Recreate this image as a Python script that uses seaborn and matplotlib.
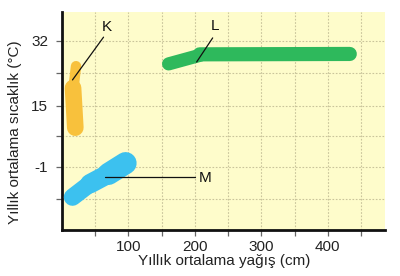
import matplotlib
matplotlib.use("Agg")
import matplotlib.pyplot as plt
import seaborn as sns
import pandas as pd

# ---- data ----
# blob centre-line segments: name, segment id, x (cm), y (°C)
blob_names = ["K", "K", "L", "L", "M", "M", "M"]
seg_ids = ["K1", "K2", "L1", "L2", "M1", "M2", "M3"]
seg_x0 = [21.1, 16.6, 160.4, 207.1, 15.8, 42.0, 70.0]
seg_x1 = [17.3, 20.0, 208.6, 433.0, 42.0, 70.0, 95.6]
seg_y0 = [25.4, 19.7, 26.0, 28.5, -8.9, -5.4, -2.8]
seg_y1 = [19.7, 9.3, 28.3, 28.6, -5.4, -2.8, 0.0]

label_names = ["K", "L", "M"]
label_x = [67.0, 229.7, 214.6]
label_y = [35.7, 35.9, -3.9]
leader_x0 = [62.5, 226.7, 64.0]
leader_y0 = [33.0, 32.8, -3.6]
leader_x1 = [15.8, 202.6, 199.5]
leader_y1 = [21.8, 26.5, -3.6]

x_major = [100, 200, 300, 400]
x_minor = [50, 150, 250, 350, 450]
y_major = [32, 15, -1]
y_major_labels = ["32", "15", "-1"]
y_minor = [23.5, 7, -9.5]

x_title = "Yıllık ortalama yağış (cm)"
y_title = "Yıllık ortalama sıcaklık (°C)"

# ---- styles ----
colors = {"K": "#F8C13C", "L": "#2EB95C", "M": "#3CC1EF"}
seg_width = {"K1": 7.5, "K2": 12.0, "L1": 9.5, "L2": 10.2,
             "M1": 12.5, "M2": 14.0, "M3": 16.0}

sns.set_style("white")
plt.rcParams["font.family"] = ["Liberation Sans", "DejaVu Sans"]

fig = plt.figure(figsize=(4.0, 2.76), dpi=100)
ax = fig.add_axes([0.155, 0.1667, 0.8075, 0.79])
ax.set_facecolor("#FEFCCB")

rows = []
for n, s, x0, x1, y0, y1 in zip(blob_names, seg_ids, seg_x0, seg_x1, seg_y0, seg_y1):
    rows.append({"blob": n, "seg": s, "x": x0, "y": y0})
    rows.append({"blob": n, "seg": s, "x": x1, "y": y1})
df = pd.DataFrame(rows)

for s, sub in df.groupby("seg", sort=False):
    sns.lineplot(data=sub, x="x", y="y", ax=ax, sort=False, estimator=None,
                 color=colors[sub["blob"].iloc[0]], linewidth=seg_width[s],
                 solid_capstyle="round", zorder=3)

for n, lx, ly, a0, b0, a1, b1 in zip(label_names, label_x, label_y,
                                    leader_x0, leader_y0, leader_x1, leader_y1):
    ax.plot([a0, a1], [b0, b1], color="#111111", linewidth=0.9, zorder=4)
    ax.text(lx, ly, n, ha="center", va="center", fontsize=11, color="#111111", zorder=5)

ax.set_xlim(0, 486)
ax.set_ylim(-17.5, 39.6)
ax.set_xticks(x_major)
ax.set_xticklabels([str(v) for v in x_major])
ax.set_xticks(x_minor, minor=True)
ax.set_yticks(y_major)
ax.set_yticklabels(y_major_labels)
ax.set_yticks(y_minor, minor=True)

ax.grid(True, which="both", linestyle=(0, (1.5, 1.5)), color="#C9C49B", linewidth=0.8)
ax.set_axisbelow(True)

for side in ["top", "right"]:
    ax.spines[side].set_visible(False)
for side in ["left", "bottom"]:
    ax.spines[side].set_color("#111111")
    ax.spines[side].set_linewidth(2)

ax.tick_params(which="both", direction="out", length=4, width=0.9, color="#666666",
               labelsize=11, labelcolor="#222222", left=True, bottom=True)
ax.tick_params(axis="y", pad=6)

ax.set_xlabel(x_title, fontsize=11, color="#222222")
ax.set_ylabel(y_title, fontsize=11, color="#222222")
ax.xaxis.set_label_coords(0.503, -0.112)
ax.yaxis.set_label_coords(-0.124, 0.45)

fig.savefig("out.png", dpi=100)
